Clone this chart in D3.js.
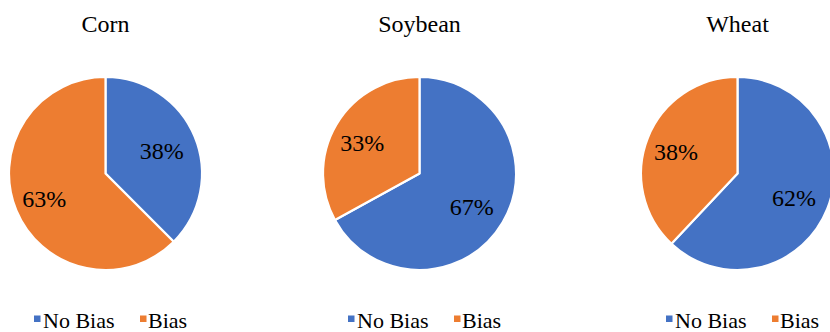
<!DOCTYPE html>
<html>
<head>
<meta charset="utf-8">
<script src="https://cdn.jsdelivr.net/npm/d3@7"></script>
<style>
  html, body { margin: 0; padding: 0; background: #fff; }
  svg { display: block; }
  text { font-family: 'Times New Roman', 'Liberation Serif', 'DejaVu Serif', serif; }
</style>
</head>
<body>
<svg id="chart" width="830" height="332"></svg>
<script>
// ---- data ----
const crops = ["Corn", "Soybean", "Wheat"];
const seriesNames = ["No Bias", "Bias"];
const noBias = [37.5, 67, 62];
const bias = [62.5, 33, 38];
const seriesColors = ["#4472C4", "#ED7D31"];

// ---- layout ----
const FONT = "'Times New Roman', 'Liberation Serif', 'DejaVu Serif', serif";
const centersX = [105.5, 419.5, 737.5];
const cy = 173.5;
const R = 96.5;
const labelR = 63.5;

const svg = d3.select("#chart");
const color = d3.scaleOrdinal().domain(seriesNames).range(seriesColors);

const pie = d3.pie().sort(null).value(d => d.value);
const arc = d3.arc().innerRadius(0).outerRadius(R);
const labelArc = d3.arc().innerRadius(labelR).outerRadius(labelR);

crops.forEach((crop, i) => {
  const data = [
    { name: seriesNames[0], value: noBias[i] },
    { name: seriesNames[1], value: bias[i] }
  ];
  const total = d3.sum(data, d => d.value);
  const cx = centersX[i];
  const g = svg.append("g").attr("transform", `translate(${cx},${cy})`);
  const arcs = pie(data);

  g.selectAll("path").data(arcs).join("path")
    .attr("d", arc)
    .attr("fill", d => color(d.data.name))
    .attr("stroke", "#fff")
    .attr("stroke-width", 2.2)
    .attr("stroke-linejoin", "round");

  g.selectAll("text.lbl").data(arcs).join("text")
    .attr("class", "lbl")
    .attr("transform", d => {
      const [x, y] = labelArc.centroid(d);
      return `translate(${x - 2.5},${y + 1})`;
    })
    .attr("text-anchor", "middle")
    .attr("dy", "0.35em")
    .attr("font-family", FONT)
    .attr("font-size", 24)
    .attr("fill", "#000")
    .text(d => Math.round(d.data.value / total * 100) + "%");

  // title
  svg.append("text")
    .attr("x", cx)
    .attr("y", 32)
    .attr("text-anchor", "middle")
    .attr("font-family", FONT)
    .attr("font-size", 24)
    .attr("fill", "#000")
    .text(crop);

  // legend
  const lg = svg.append("g").attr("transform", `translate(${cx},0)`);
  const legendItems = [
    { name: seriesNames[0], sx: -71.5, tx: -62.5 },
    { name: seriesNames[1], sx: 34.5, tx: 42.5 }
  ];
  legendItems.forEach(it => {
    lg.append("rect")
      .attr("x", it.sx).attr("y", 315.5)
      .attr("width", 6.5).attr("height", 6.5)
      .attr("fill", color(it.name));
    lg.append("text")
      .attr("x", it.tx).attr("y", 327.5)
      .attr("font-family", FONT)
      .attr("font-size", 22)
      .attr("fill", "#000")
      .text(it.name);
  });
});
</script>
</body>
</html>
